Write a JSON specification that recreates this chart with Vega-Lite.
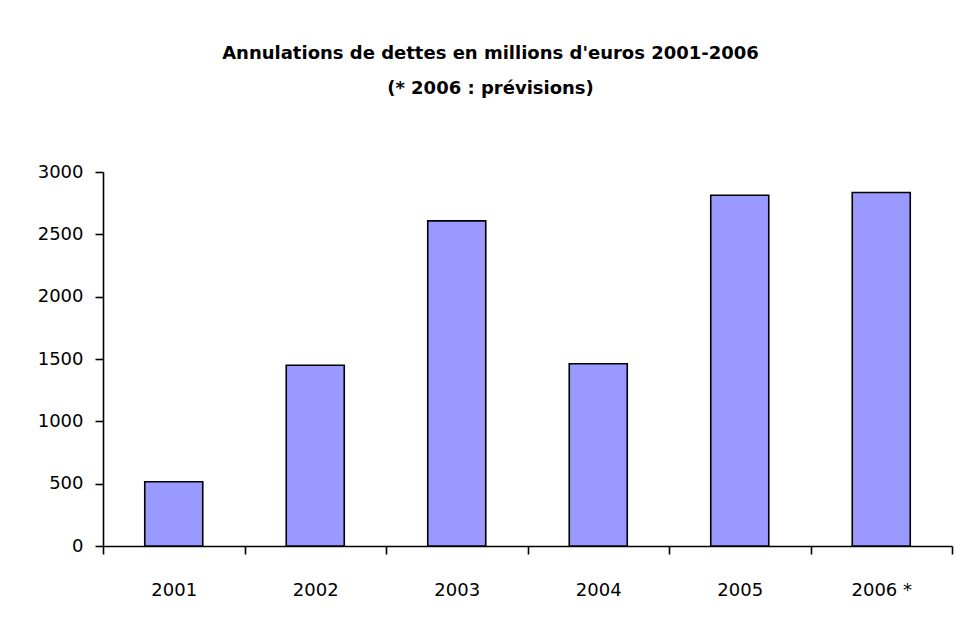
{
  "$schema": "https://vega.github.io/schema/vega-lite/v6.json",
  "width": 849,
  "height": 374,
  "autosize": "none",
  "padding": {"left": 103, "top": 172, "right": 3, "bottom": 84},
  "background": "white",
  "title": {
    "text": ["Annulations de dettes en millions d'euros 2001-2006", "(* 2006 : prévisions)"],
    "font": "DejaVu Sans",
    "fontSize": 18,
    "fontWeight": "bold",
    "color": "black",
    "lineHeight": 35,
    "anchor": "middle",
    "dx": -37,
    "offset": 65
  },
  "data": {
    "values": [
      {"year": "2001", "value": 515},
      {"year": "2002", "value": 1450},
      {"year": "2003", "value": 2608},
      {"year": "2004", "value": 1462},
      {"year": "2005", "value": 2814},
      {"year": "2006 *", "value": 2835}
    ]
  },
  "mark": {"type": "bar", "fill": "#9999FF", "stroke": "black", "strokeWidth": 1.6, "width": {"band": 0.41}},
  "encoding": {
    "x": {
      "field": "year", "type": "nominal", "sort": null,
      "scale": {"paddingInner": 0, "paddingOuter": 0},
      "axis": {"title": null, "labelAngle": 0, "tickBand": "extent", "labelPadding": 27, "tickSize": 8, "domainColor": "black", "tickColor": "black", "domainWidth": 1.6, "tickWidth": 1.6, "labelFont": "DejaVu Sans", "labelFontSize": 18, "labelColor": "black"}
    },
    "y": {
      "field": "value", "type": "quantitative",
      "scale": {"domain": [0, 3000], "nice": false},
      "axis": {"title": null, "values": [0, 500, 1000, 1500, 2000, 2500, 3000], "format": "d", "grid": false, "tickSize": 8, "labelPadding": 12, "domainColor": "black", "tickColor": "black", "domainWidth": 1.6, "tickWidth": 1.6, "labelFont": "DejaVu Sans", "labelFontSize": 18, "labelColor": "black"}
    }
  },
  "config": {"view": {"stroke": null}}
}
